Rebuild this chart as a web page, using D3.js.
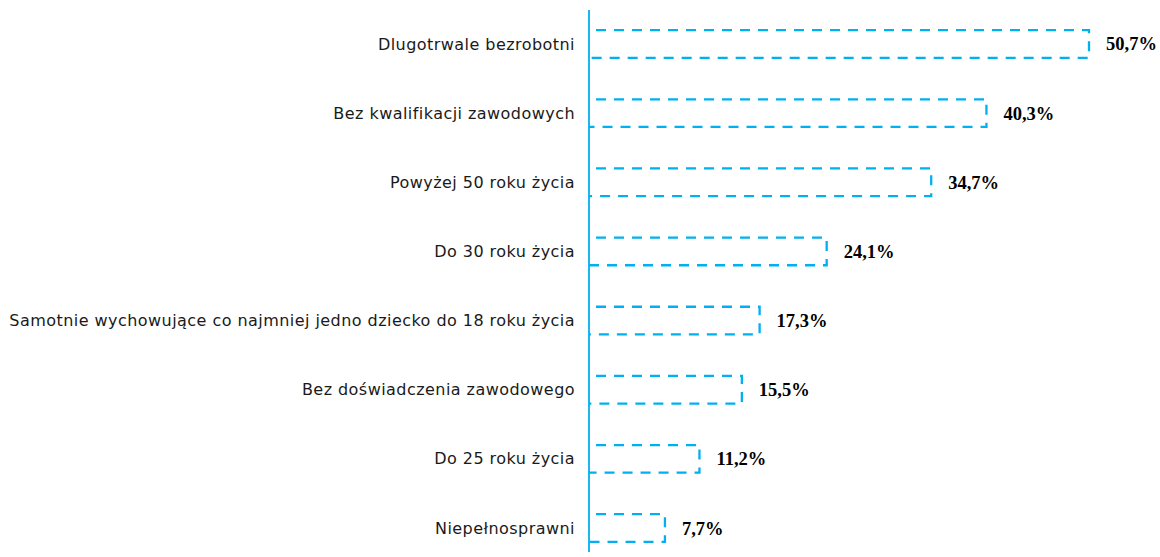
<!DOCTYPE html>
<html>
<head>
<meta charset="utf-8">
<script src="https://cdn.jsdelivr.net/npm/d3@7"></script>
<style>
    body { margin: 0; background: #fff; }
    .catLabel { font-family: "DejaVu Sans", sans-serif; font-size: 16px; letter-spacing: 0.45px; fill: #1a1a1a; }
    .valLabel { font-family: "Liberation Serif", serif; font-size: 18.5px; font-weight: bold; fill: #000; }
</style>
</head>
<body>
<script>
//chart data
var categories = [
    "Dlugotrwale bezrobotni",
    "Bez kwalifikacji zawodowych",
    "Powyżej 50 roku życia",
    "Do 30 roku życia",
    "Samotnie wychowujące co najmniej jedno dziecko do 18 roku życia",
    "Bez doświadczenia zawodowego",
    "Do 25 roku życia",
    "Niepełnosprawni"
];
var values = [50.7, 40.3, 34.7, 24.1, 17.3, 15.5, 11.2, 7.7];
var valueLabels = ["50,7%", "40,3%", "34,7%", "24,1%", "17,3%", "15,5%", "11,2%", "7,7%"];

window.onload = drawChart();

function drawChart(){
    var width = 1160,
        height = 557,
        axisX = 589;

    var svg = d3.select("body")
        .append("svg")
        .attr("width", width)
        .attr("height", height);

    //x scale - percent to pixels
    var x = d3.scaleLinear()
        .domain([0, 50.7])
        .range([axisX, 1089]);

    //y scale - one band per category
    var y = d3.scaleBand()
        .domain(categories)
        .range([9.4, 562.6])
        .paddingInner(0.6)
        .paddingOuter(0.3);

    var rows = categories.map(function(c, i){
        return {cat: c, val: values[i], lab: valueLabels[i]};
    });

    //dashed bar outlines (no left edge, sits on the axis)
    svg.selectAll(".bar")
        .data(rows)
        .enter()
        .append("path")
        .attr("class", "bar")
        .attr("d", function(d){
            var x0 = x(0), x1 = x(d.val), y0 = y(d.cat), y1 = y(d.cat) + y.bandwidth();
            return "M" + x0 + "," + y0 + "H" + x1 + "V" + y1 + "H" + x0;
        })
        .attr("fill", "none")
        .attr("stroke", "#00b0f0")
        .attr("stroke-width", 2.3)
        .attr("stroke-dasharray", "10,8")
        .attr("stroke-dashoffset", 11);

    //vertical axis line
    svg.append("line")
        .attr("x1", axisX).attr("x2", axisX)
        .attr("y1", 10).attr("y2", 552)
        .attr("stroke", "#00b0f0")
        .attr("stroke-width", 1.8);

    //category labels
    svg.selectAll(".catLabel")
        .data(rows)
        .enter()
        .append("text")
        .attr("class", "catLabel")
        .attr("x", axisX - 14)
        .attr("y", function(d){ return y(d.cat) + y.bandwidth() / 2; })
        .attr("dy", "0.35em")
        .attr("text-anchor", "end")
        .text(function(d){ return d.cat; });

    //value labels
    svg.selectAll(".valLabel")
        .data(rows)
        .enter()
        .append("text")
        .attr("class", "valLabel")
        .attr("x", function(d){ return x(d.val) + 17; })
        .attr("y", function(d){ return y(d.cat) + y.bandwidth() / 2; })
        .attr("dy", "0.35em")
        .text(function(d){ return d.lab; });
};
</script>
</body>
</html>
